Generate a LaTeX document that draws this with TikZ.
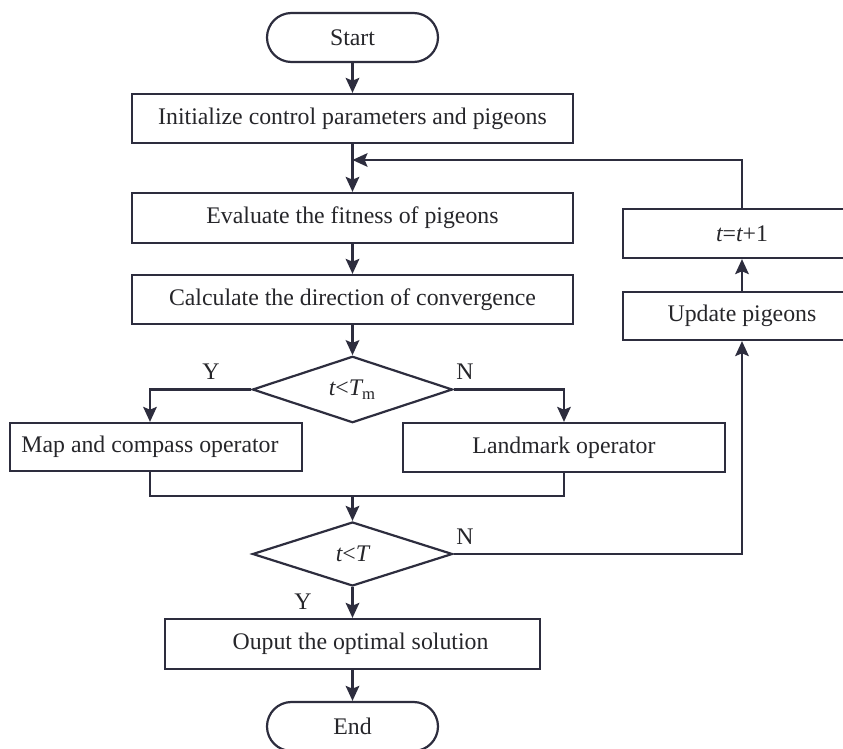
\documentclass[tikz,border=0pt]{standalone}
\usepackage{fontspec}
\setmainfont{Liberation Serif}
\usetikzlibrary{arrows.meta,shapes.geometric}
\definecolor{linecol}{RGB}{45,45,62}
\definecolor{textcol}{RGB}{38,38,42}
\begin{document}
\begin{tikzpicture}[
  x=0.5pt, y=-0.5pt,
  font=\fontsize{11.9}{14}\selectfont,
  every node/.style={text=textcol},
  line/.style={draw=linecol, line width=1.1pt},
  flow/.style={line, -{Stealth[length=7.5pt,width=6.8pt,inset=1.4pt]}},
  procbox/.style={draw=linecol, line width=1.1pt, rectangle, inner sep=0pt, fill=white},
  termbox/.style={draw=linecol, line width=1.1pt, rectangle, rounded corners=12.25pt,
                  inner sep=0pt, minimum width=85.5pt, minimum height=24.5pt},
  decbox/.style={draw=linecol, line width=1.1pt, diamond, inner sep=0pt,
                 minimum width=100pt, minimum height=32.5pt},
  tag/.style={inner sep=0pt}
]
\useasboundingbox (0,0) rectangle (843,749);
\clip (0,0) rectangle (843,749);
\fill[white] (0,0) rectangle (843,749);

% main column
\node[termbox] (start) at (352.5,37.5) {Start};
\node[procbox, minimum width=220.5pt, minimum height=24.5pt] (init) at (352.5,118.5)
  {Initialize control parameters and pigeons};
\node[procbox, minimum width=220.5pt, minimum height=25pt] (eval) at (352.5,218)
  {Evaluate the fitness of pigeons};
\node[procbox, minimum width=220.5pt, minimum height=24.5pt] (calc) at (352.5,299.5)
  {Calculate the direction of convergence};
\node[decbox] (d1) at (352.5,389.5) {\itshape t\upshape<\itshape T\upshape\textsubscript{m}};
\node[procbox, minimum width=146pt, minimum height=24pt] (map) at (156,447)
  {\hspace*{-6pt}Map and compass operator};
\node[procbox, minimum width=161pt, minimum height=24.5pt] (land) at (564,447.5)
  {Landmark operator};
\node[decbox, minimum height=32pt] (d2) at (352.5,554) {\itshape t\upshape<\itshape T};
\node[procbox, minimum width=187.5pt, minimum height=25pt] (out) at (352.5,644)
  {\hspace*{8pt}Ouput the optimal solution};
\node[termbox] (end) at (352.5,726.5) {End};

% update column
\node[procbox, minimum width=119pt, minimum height=24pt] (upd) at (742,316)
  {Update pigeons};
\node[procbox, minimum width=119pt, minimum height=24.5pt] (tt) at (742,233.5)
  {\itshape t\upshape=\itshape t\upshape+1};

% branch labels
\node[tag] (ly1) at (211,372) {Y};
\node[tag] (ln1) at (465,372) {N};
\node[tag] (ln2) at (465,537) {N};
\node[tag] (ly2) at (303,602) {Y};

\coordinate (join) at (352.5,160);
\coordinate (merge) at (352.5,496);

% connectors
\draw[flow] (start.south) -- (init.north);
\draw[line] (init.south) -- (join);
\draw[flow] (join) -- (eval.north);
\draw[flow] (eval.south) -- (calc.north);
\draw[flow] (calc.south) -- (d1.north);
\draw[flow] (d1.west) -| ([xshift=-3pt]map.north);
\draw[flow] (d1.east) -| (land.north);
\draw[line] ([xshift=-3pt]map.south) |- (merge) -| (land.south);
\draw[flow] (merge) -- (d2.north);
\draw[flow] (d2.east) -| (upd.south);
\draw[flow] (upd.north) -- (tt.south);
\draw[flow] (tt.north) |- (join);
\draw[flow] (d2.south) -- (out.north);
\draw[flow] (out.south) -- (end.north);
\end{tikzpicture}
\end{document}
